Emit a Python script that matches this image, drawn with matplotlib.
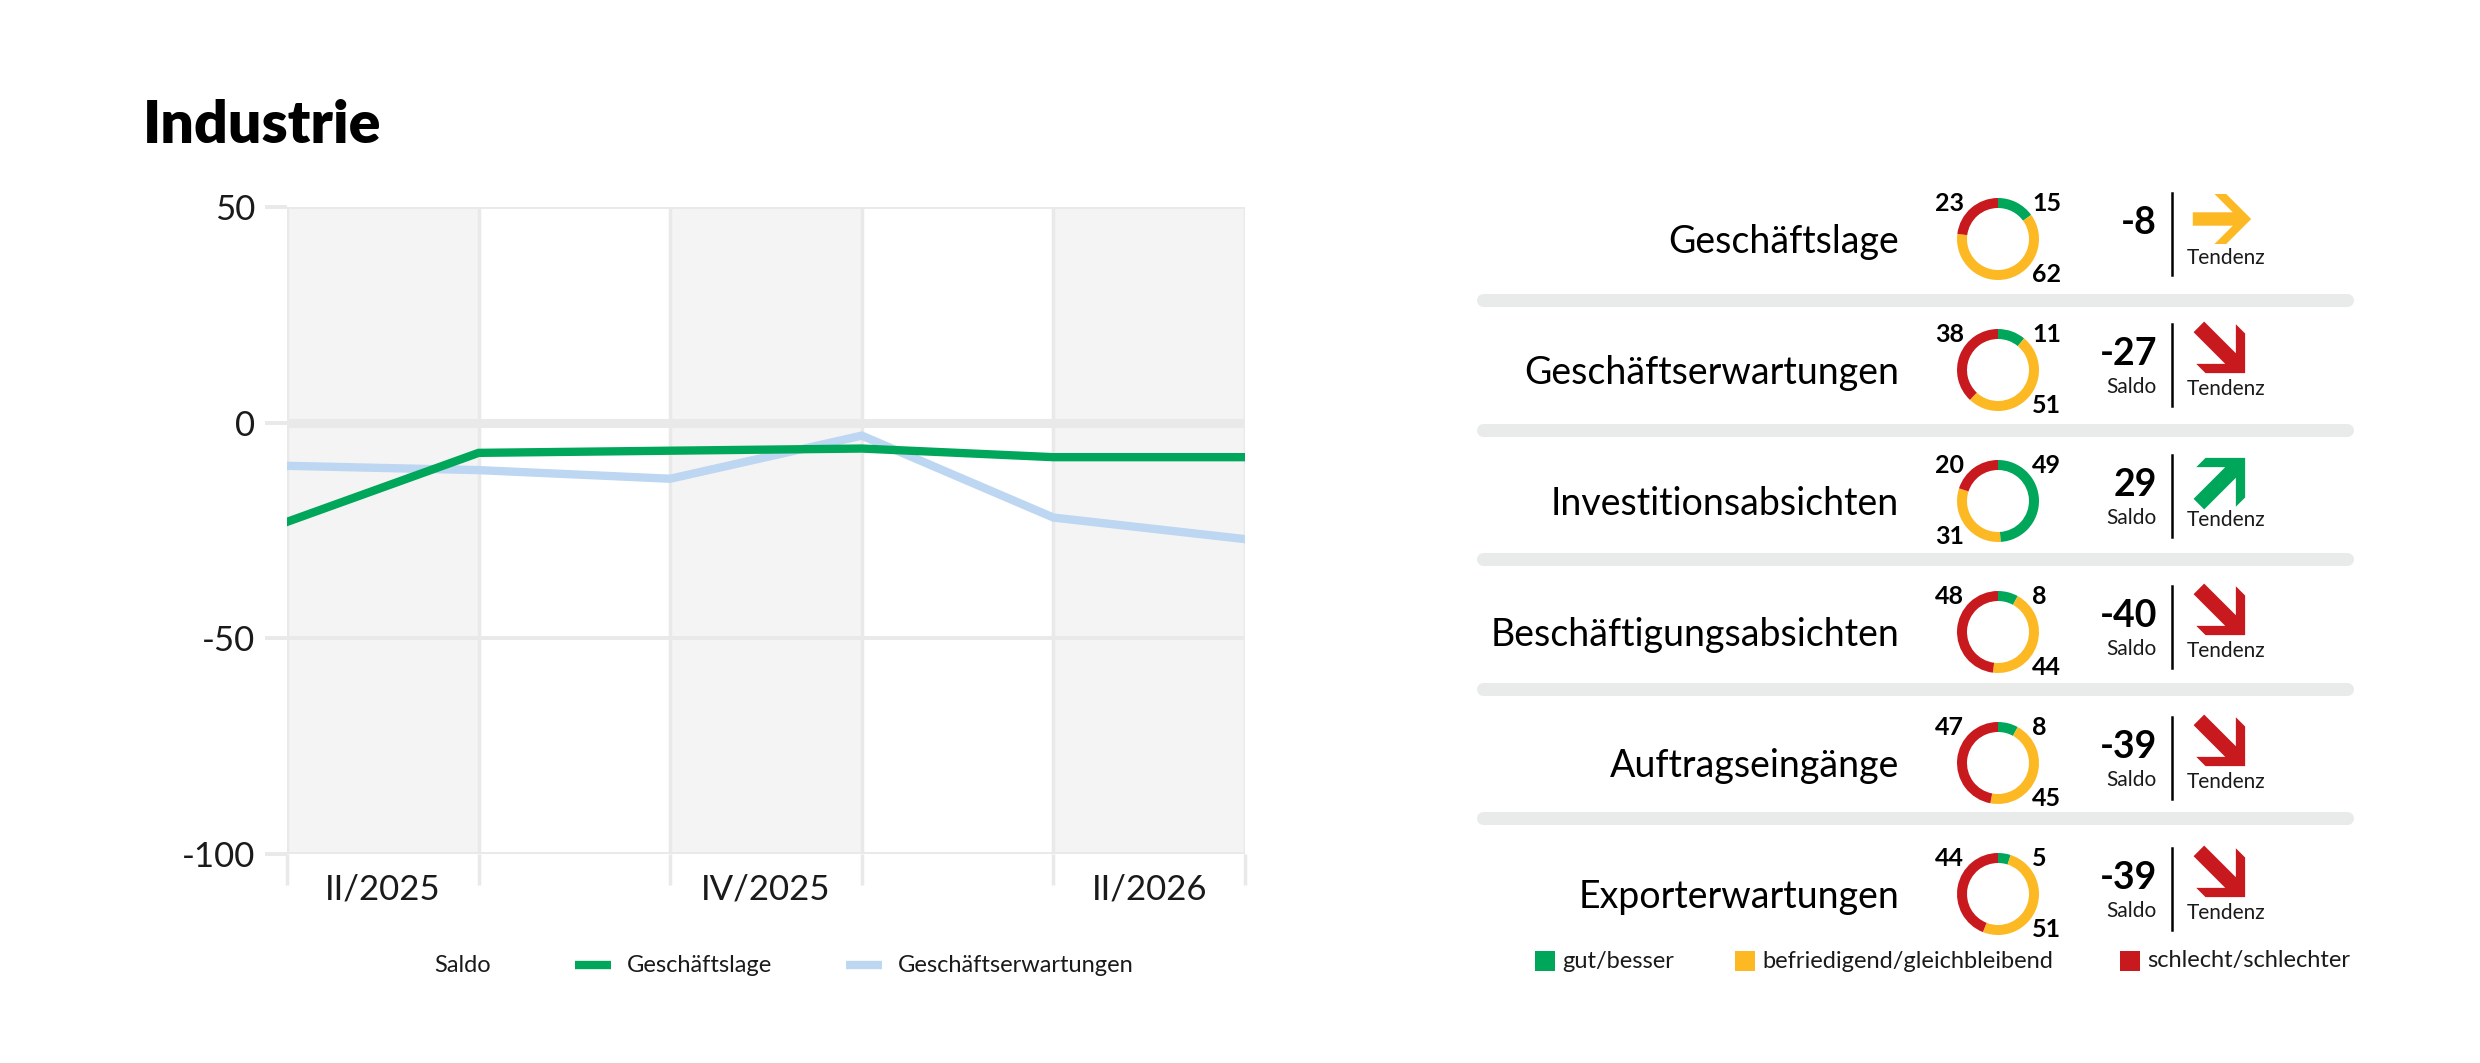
import numpy as np
import matplotlib
matplotlib.use("Agg")
import matplotlib.pyplot as plt
from matplotlib.patches import Polygon, Rectangle

plt.rcParams['font.family'] = ['Lato', 'DejaVu Sans']

# ---- data ----
quarters = ["II/2025", "III/2025", "IV/2025", "I/2026", "II/2026"]
geschaeftslage = [-23, -7, -6.5, -6, -8, -8]
geschaeftserwartungen = [-10, -11, -13, -3, -22, -27]

indicators = ["Geschäftslage", "Geschäftserwartungen", "Investitionsabsichten",
              "Beschäftigungsabsichten", "Auftragseingänge", "Exporterwartungen"]
gut = [15, 11, 49, 8, 8, 5]
befriedigend = [62, 51, 31, 44, 45, 51]
schlecht = [23, 38, 20, 48, 47, 44]
saldo = [-8, -27, 29, -40, -39, -39]
tendenz = ["gleich", "runter", "hoch", "runter", "runter", "runter"]
show_saldo_label = [False, True, True, True, True, True]

GREEN = "#00a65a"
YELLOW = "#fdb924"
RED = "#c8191f"
BLUE = "#bdd6f1"
GRID = "#e9e9e9"
BAND = "#f4f4f4"
TXT = "#1a1a1a"

W, H = 2480, 1063
fig = plt.figure(figsize=(W / 100, H / 100), dpi=100)


def fig_box(x0, y0, x1, y1):
    # pixel box (top-left origin) -> figure fraction
    return [x0 / W, 1 - y1 / H, (x1 - x0) / W, (y1 - y0) / H]


# ---- line chart ----
ax = fig.add_axes(fig_box(287, 207, 1245, 854))
n = len(geschaeftslage)
x = np.arange(n)
for i in range(0, n - 1, 2):
    ax.axvspan(i, i + 1, color=BAND, zorder=0, lw=0)
for v in [50, -50, -100]:
    ax.axhline(v, color=GRID, lw=2.8, zorder=1)
ax.axhline(0, color=GRID, lw=6.5, zorder=1)
for xi in x:
    ax.axvline(xi, color=GRID, lw=2.5, zorder=1)
ax.plot(x, geschaeftserwartungen, color=BLUE, lw=6, zorder=3,
        solid_joinstyle="miter")
ax.plot(x, geschaeftslage, color=GREEN, lw=6, zorder=4,
        solid_joinstyle="miter")
ax.set_xlim(0, n - 1)
ax.set_ylim(-100, 50)
ax.set_yticks([50, 0, -50, -100])
ax.set_yticklabels(["50", "0", "-50", "-100"])
ax.set_xticks(x)
ax.set_xticklabels([])
ax.set_xticks(np.arange(len(quarters)) + 0.5, minor=True)
ax.set_xticklabels([q if i % 2 == 0 else "" for i, q in enumerate(quarters)],
                   minor=True)
ax.tick_params(axis="y", length=16, width=2.8, color=GRID, pad=7,
               labelsize=25, labelcolor=TXT)
ax.tick_params(axis="x", which="major", length=22, width=2.5, color=GRID)
ax.tick_params(axis="x", which="minor", length=0, pad=14, labelsize=25,
               labelcolor=TXT)
for s in ax.spines.values():
    s.set_visible(False)

# ---- overlay in pixel coords ----
ov = fig.add_axes([0, 0, 1, 1])
ov.set_xlim(0, W)
ov.set_ylim(H, 0)
ov.axis("off")

ov.text(143, 143, "Industrie", fontsize=42.5, fontweight="heavy", ha="left",
        va="baseline", color="black")

# chart legend
ly = 965
ov.text(434, ly, "Saldo", fontsize=17, va="center", color=TXT)
ov.plot([575, 611], [ly, ly], color=GREEN, lw=6, solid_capstyle="butt")
ov.text(627, ly, "Geschäftslage", fontsize=17, va="center", color=TXT)
ov.plot([846, 882], [ly, ly], color=BLUE, lw=6, solid_capstyle="butt")
ov.text(898, ly, "Geschäftserwartungen", fontsize=17, va="center", color=TXT)

# arrow shape (pointing right), pixel units, y down
arrow_shape = np.array([(-29.2, -6.7), (10.8, -6.7), (-7.5, -25), (4.2, -25),
                        (29.2, 0), (4.2, 25), (-7.5, 25), (10.8, 6.7),
                        (-29.2, 6.7)])
arrow_style = {"gleich": (0, YELLOW, 1.0),
               "runter": (45, RED, 1.12),
               "hoch": (-45, GREEN, 1.12)}


def draw_arrow(cx, cy, kind):
    ang, col, sc = arrow_style[kind]
    a = np.radians(ang)
    rot = np.array([[np.cos(a), -np.sin(a)], [np.sin(a), np.cos(a)]])
    pts = arrow_shape @ rot.T * sc + [cx, cy]
    ov.add_patch(Polygon(pts, closed=True, color=col, lw=0))


R = 41
ring = 10
dcx = 1998
for i, name in enumerate(indicators):
    yc = 239 + 131 * i
    ov.text(1899, yc + 3, name, fontsize=27, ha="right", va="center",
            color="black")
    # donut
    dax = fig.add_axes(fig_box(dcx - R, yc - R, dcx + R, yc + R))
    vals = [gut[i], befriedigend[i], schlecht[i]]
    dax.pie(vals, colors=[GREEN, YELLOW, RED], startangle=90,
            counterclock=False, radius=1,
            wedgeprops=dict(width=ring / R, linewidth=0))
    dax.set_xlim(-1, 1)
    dax.set_ylim(-1, 1)
    dax.set_aspect("auto")
    dax.axis("off")
    # segment labels, placed at nearest diagonal of the segment middle
    start = 0
    for v in vals:
        mid = (start + v / 2) / 100 * 360
        start += v
        diag = 45 + 90 * np.round((mid - 45) / 90)
        a = np.radians(diag)
        lx = dcx + 48 * np.sin(a)
        ly2 = yc - 50 * np.cos(a)
        ov.text(lx, ly2, f"{v}", fontsize=18, fontweight="bold",
                ha="left" if np.sin(a) > 0 else "right", va="center")
    # saldo
    ov.text(2157, yc - 16, f"{saldo[i]}", fontsize=27, fontweight="bold",
            ha="right", va="center")
    if show_saldo_label[i]:
        ov.text(2157, yc + 23, "Saldo", fontsize=15, ha="right",
                va="baseline", color=TXT)
    ov.plot([2172, 2172], [yc - 46, yc + 36], color="black", lw=1.8)
    draw_arrow(2222, yc - 20, tendenz[i])
    ov.text(2187, yc + 25, "Tendenz", fontsize=15, ha="left", va="baseline",
            color=TXT)

# separators between rows
for k in range(len(indicators) - 1):
    sy = 300 + 129.5 * k
    ov.plot([1482.5, 2346.5], [sy, sy], color="#e9eaea", lw=9.4,
            solid_capstyle="round")

# donut legend
for sx, col, lab in [(1535, GREEN, "gut/besser"),
                     (1735, YELLOW, "befriedigend/gleichbleibend"),
                     (2120, RED, "schlecht/schlechter")]:
    ov.add_patch(Rectangle((sx, 951), 20, 20, color=col, lw=0))
    ov.text(sx + 27, 961, lab, fontsize=17, va="center", color=TXT)

fig.savefig("out.png", dpi=100, facecolor="white")
